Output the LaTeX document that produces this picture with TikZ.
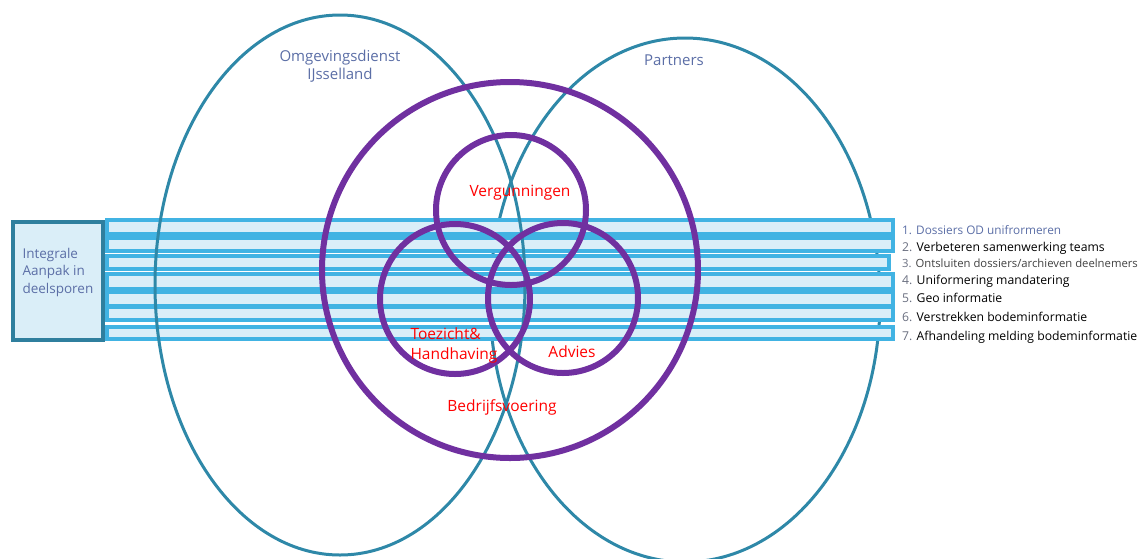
\documentclass[tikz,border=0pt]{standalone}
\usepackage{fontspec}
\setmainfont{Open Sans}
\definecolor{tealline}{HTML}{2E88A8}
\definecolor{boxline}{HTML}{2F7F9E}
\definecolor{venn}{HTML}{7030A0}
\definecolor{barfill}{HTML}{DAEEF8}
\definecolor{barline}{HTML}{41B3E3}
\definecolor{slate}{HTML}{5B6EA6}
\definecolor{numgrey}{HTML}{6A6F80}
\tikzset{
  party/.style={draw=tealline, line width=3pt},
  track/.style={draw=barline, fill=barfill, line width=3.5pt},
  task/.style={draw=venn, line width=6pt},
  partylabel/.style={text=slate, align=center, font=\fontsize{15}{18}\selectfont},
  tasklabel/.style={text=red, font=\fontsize{15.5}{20}\selectfont},
  tracklabel/.style={anchor=west, inner sep=0pt, font=\fontsize{12.2}{14}\selectfont},
}
\begin{document}
\begin{tikzpicture}[x=1pt, y=-1pt]
    \useasboundingbox (0,0) rectangle (1144,558);

    % Partners: lies behind the tracks
    \draw[party] (685,300) ellipse [x radius=195, y radius=262];

    % Tracks (deelsporen)
    \foreach \ytop/\ybot/\xend in {220/234/893, 238/251/893, 256/269/889, 274/289/893,
                                   292/306/893, 307/320/893, 327/339/893}
        \draw[track] (107,\ytop) rectangle (\xend,\ybot);

    % Box on the left
    \node[draw=boxline, fill=barfill, line width=3.5pt, minimum width=90pt,
          minimum height=118pt, inner sep=0pt] (aanpak) at (58,281) {};
    \node[anchor=west, align=left, text=slate, font=\fontsize{13.5}{17.5}\selectfont]
        (aanpaktext) at (19,272) {Integrale\\Aanpak in\\deelsporen};

    % Omgevingsdienst: on top of the tracks
    \draw[party] (340,285) ellipse [x radius=185, y radius=270];

    % Task circles
    \draw[task] (510,270) circle [radius=188];
    \draw[task] (511,210) circle [radius=75];
    \draw[task] (455,299) circle [radius=75];
    \draw[task] (563,298) circle [radius=75];

    % Labels
    \node[partylabel] (od) at (340,66) {Omgevingsdienst\\IJsselland};
    \node[partylabel] (partners) at (674,60) {Partners};

    \node[tasklabel] (verg) at (520,193) {Vergunningen};
    \node[tasklabel, align=left, anchor=west] (toez) at (407,345) {Toezicht\&\\Handhaving};
    \node[tasklabel] (advies) at (572,352) {Advies};
    \node[tasklabel] (bedrijf) at (502,407) {Bedrijfsvoering};

    \node[tracklabel, text=slate, font=\fontsize{11.8}{14}\selectfont] (t1) at (902,230)
        {1. Dossiers OD unifrormeren};
    \node[tracklabel] (t2) at (902,248) {\textcolor{numgrey}{2.} Verbeteren samenwerking teams};
    \node[tracklabel, text=black!75, font=\fontsize{11.3}{13}\selectfont] (t3) at (902,263)
        {\textcolor{numgrey}{3.} Ontsluiten dossiers/archieven deelnemers};
    \node[tracklabel] (t4) at (902,281) {\textcolor{numgrey}{4.} Uniformering mandatering};
    \node[tracklabel] (t5) at (902,298) {\textcolor{numgrey}{5.} Geo informatie};
    \node[tracklabel] (t6) at (902,317) {\textcolor{numgrey}{6.} Verstrekken bodeminformatie};
    \node[tracklabel] (t7) at (902,337) {\textcolor{numgrey}{7.} Afhandeling melding bodeminformatie};
\end{tikzpicture}
\end{document}
